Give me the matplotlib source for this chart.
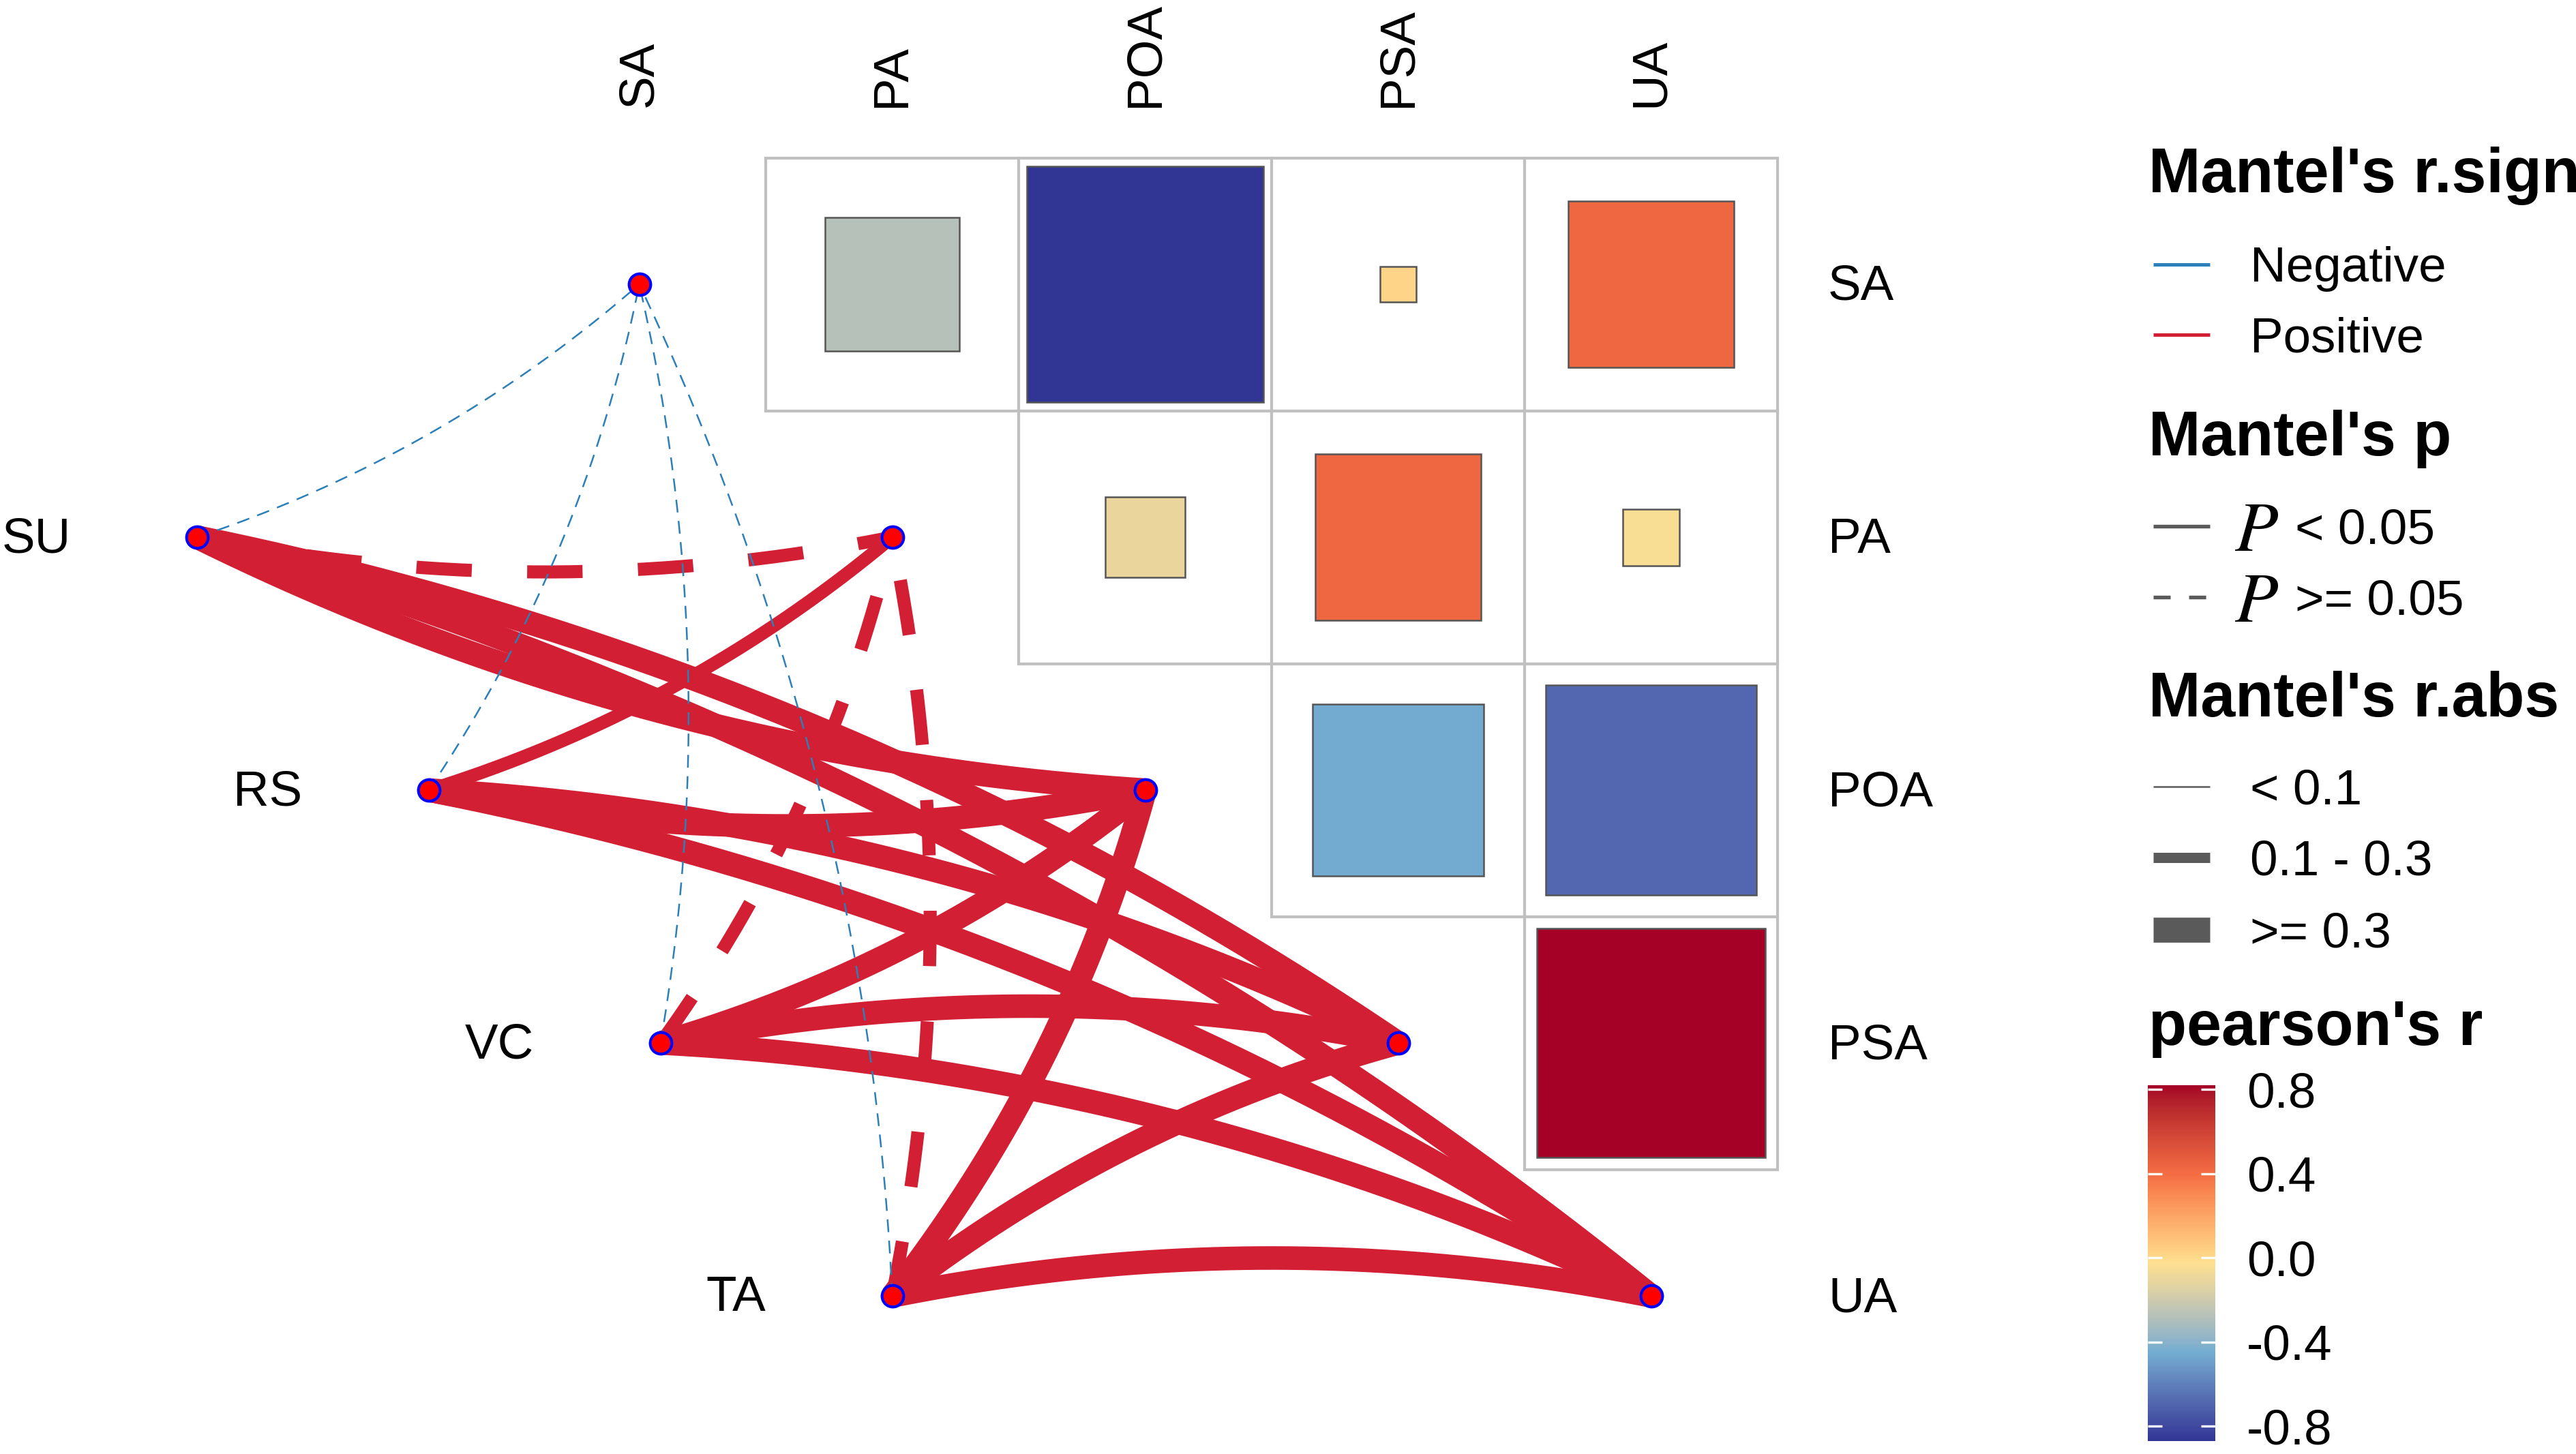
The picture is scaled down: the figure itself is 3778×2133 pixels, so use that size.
import numpy as np
import matplotlib.pyplot as plt
from matplotlib.patches import Rectangle
from matplotlib.colors import ListedColormap, Normalize, to_rgb
from matplotlib.cm import ScalarMappable

plt.rcParams['font.family'] = ['Liberation Sans', 'DejaVu Sans']
plt.rcParams['axes.unicode_minus'] = False
plt.rcParams['lines.scale_dashes'] = False

# ---- data ----
spec_names = ['SA', 'PA', 'POA', 'PSA', 'UA']
env_names = ['SU', 'RS', 'VC', 'TA']

# pearson's r among spec variables (upper triangle)
corr_row = ['SA', 'SA', 'SA', 'SA', 'PA', 'PA', 'PA', 'POA', 'POA', 'PSA']
corr_col = ['PA', 'POA', 'PSA', 'UA', 'POA', 'PSA', 'UA', 'PSA', 'UA', 'UA']
corr_r = [-0.28, -0.87, 0.02, 0.43, -0.10, 0.43, -0.05, -0.46, -0.69, 0.82]

# mantel test results (spec vs env)
mantel_spec = ['SA'] * 4 + ['PA'] * 4 + ['POA'] * 4 + ['PSA'] * 4 + ['UA'] * 4
mantel_env = env_names * 5
mantel_r = [-0.04, -0.06, -0.03, -0.05,
            0.18, 0.21, 0.16, 0.14,
            0.52, 0.48, 0.45, 0.41,
            0.55, 0.47, 0.50, 0.44,
            0.58, 0.51, 0.49, 0.46]
mantel_p = [0.62, 0.48, 0.71, 0.55,
            0.08, 0.03, 0.09, 0.12,
            0.001, 0.001, 0.002, 0.004,
            0.001, 0.001, 0.001, 0.003,
            0.001, 0.001, 0.001, 0.002]

# ---- styles ----
pos_col = '#D31F34'
neg_col = '#2C80B9'
grid_col = '#C0C0C0'
key_col = '#5A5A5A'
anchor_cols = ['#313695', '#74ADD1', '#FEE090', '#F46D43', '#A50026']

_M = np.array([[0.4124, 0.3576, 0.1805],
               [0.2126, 0.7152, 0.0722],
               [0.0193, 0.1192, 0.9505]])
_WHITE = np.array([0.95047, 1.0, 1.08883])


def to_lab(c):
    c = np.array(to_rgb(c))
    lin = np.where(c <= 0.04045, c / 12.92, ((c + 0.055) / 1.055) ** 2.4)
    xyz = _M @ lin / _WHITE
    f = np.where(xyz > 0.008856, np.cbrt(xyz), 7.787 * xyz + 16 / 116)
    return np.array([116 * f[1] - 16, 500 * (f[0] - f[1]), 200 * (f[1] - f[2])])


def from_lab(lab):
    fy = (lab[0] + 16) / 116
    f = np.array([fy + lab[1] / 500, fy, fy - lab[2] / 200])
    xyz = np.where(f ** 3 > 0.008856, f ** 3, (f - 16 / 116) / 7.787) * _WHITE
    lin = np.linalg.solve(_M, xyz)
    c = np.where(lin <= 0.0031308, 12.92 * lin, 1.055 * np.clip(lin, 0, None) ** (1 / 2.4) - 0.055)
    return np.clip(c, 0, 1)


labs = [to_lab(c) for c in anchor_cols]
ramp = []
for t in np.linspace(0, 1, 256):
    seg = min(int(t * (len(labs) - 1)), len(labs) - 2)
    u = t * (len(labs) - 1) - seg
    ramp.append(from_lab((1 - u) * labs[seg] + u * labs[seg + 1]))
cmap = ListedColormap(ramp)
norm = Normalize(vmin=min(corr_r), vmax=max(corr_r))

W, H = 3779, 2133
fig = plt.figure(figsize=(W / 300, H / 300), dpi=300)
ax = fig.add_axes([0, 0, 1, 1])
ax.set_xlim(-2.527, 7.659)
ax.set_ylim(-0.625, 5.124)
ax.axis('off')

n = len(spec_names)
spec_pos = {s: (i, n - 1 - i) for i, s in enumerate(spec_names)}
env_x = -1.748 + 0.9161 * np.arange(len(env_names))
env_pos = {e: (env_x[k], n - 2 - k) for k, e in enumerate(env_names)}

# heatmap cells
for rn, cn, r in zip(corr_row, corr_col, corr_r):
    cx = spec_names.index(cn)
    cy = n - 1 - spec_names.index(rn)
    ax.add_patch(Rectangle((cx - 0.5, cy - 0.5), 1, 1, fc='white',
                           ec=grid_col, lw=1.0, zorder=1))
    s = np.sqrt(abs(r))
    ax.add_patch(Rectangle((cx - s / 2, cy - s / 2), s, s, fc=cmap(norm(r)),
                           ec='#555555', lw=0.6, zorder=1.5))

# labels
for i, s in enumerate(spec_names):
    ax.text(i, 4.70, s, rotation=90, ha='center', va='bottom', fontsize=17.5)
    ax.text(4.70, n - 1 - i - 0.012, s, ha='left', va='center', fontsize=17.5)
for e in env_names:
    x, y = env_pos[e]
    ax.text(x - 0.5, y - 0.01, e, ha='right', va='center', fontsize=17.5)


def curve_points(p0, p1, bend, num=150):
    p0 = np.asarray(p0, float)
    p1 = np.asarray(p1, float)
    d = p1 - p0
    L = np.hypot(*d)
    normal = np.array([d[1], -d[0]]) / L
    ctrl = (p0 + p1) / 2 + bend * 0.1 * L * normal
    t = np.linspace(0, 1, num)[:, None]
    return (1 - t) ** 2 * p0 + 2 * (1 - t) * t * ctrl + t ** 2 * p1


# mantel edges, drawn UA first so SA ends on top
order = sorted(range(len(mantel_r)), key=lambda k: -spec_names.index(mantel_spec[k]))
for k in order:
    sp, en, r, p = mantel_spec[k], mantel_env[k], mantel_r[k], mantel_p[k]
    bend = 1 if spec_names.index(sp) < 3 else -1
    pts = curve_points(env_pos[en], spec_pos[sp], bend)
    ar = abs(r)
    if ar < 0.1:
        lw, z = 0.6, 4
    elif ar < 0.3:
        lw, z = 4.6, 3
    else:
        lw, z = 8.3, 2
    col = pos_col if r > 0 else neg_col
    if p < 0.05:
        ls = '-'
    elif lw < 1:
        ls = (0, (4.5, 3.0))
    else:
        ls = (0, (19.5, 19.5))
    ax.plot(pts[:, 0], pts[:, 1], color=col, lw=lw, ls=ls,
            solid_capstyle='butt', dash_capstyle='butt', zorder=z)

# nodes
allx = [spec_pos[s][0] for s in spec_names] + [env_pos[e][0] for e in env_names]
ally = [spec_pos[s][1] for s in spec_names] + [env_pos[e][1] for e in env_names]
ax.plot(allx, ally, 'o', ms=7.6, mfc='red', mec='blue', mew=1.0, ls='none', zorder=6)

# ---- legends (pixel coordinates) ----
lax = fig.add_axes([0, 0, 1, 1])
lax.set_xlim(0, W)
lax.set_ylim(H, 0)
lax.axis('off')

tx, kx0, kx1, lx = 3151, 3158, 3241, 3300
title_kw = dict(fontsize=22, fontweight='bold', va='baseline', ha='left')
lab_kw = dict(fontsize=17.5, va='center', ha='left')
dy = 7

lax.text(tx, 282, "Mantel's r.sign", **title_kw)
for y, c, lab in [(388, neg_col, 'Negative'), (491, pos_col, 'Positive')]:
    lax.plot([kx0, kx1], [y, y], color=c, lw=1.2, solid_capstyle='butt')
    lax.text(lx, y + dy, lab, **lab_kw)

lax.text(tx, 668, "Mantel's p", **title_kw)
for y, ls, lab in [(772, '-', '< 0.05'), (876, (0, (6, 6.5)), '>= 0.05')]:
    lax.plot([kx0, kx1], [y, y], color=key_col, lw=1.3, ls=ls,
             solid_capstyle='butt', dash_capstyle='butt')
    lax.text(3278, y + 4 + dy, 'P', fontfamily='STIXGeneral', style='italic',
             fontsize=25, va='center', ha='left')
    lax.text(3366, y + dy, lab, **lab_kw)

lax.text(tx, 1051, "Mantel's r.abs", **title_kw)
for y, w, lab in [(1154, 0.6, '< 0.1'), (1258, 3.6, '0.1 - 0.3'), (1364, 8.8, '>= 0.3')]:
    lax.plot([kx0, kx1], [y, y], color=key_col, lw=w, solid_capstyle='butt')
    lax.text(lx, y + dy, lab, **lab_kw)

lax.text(tx, 1533, "pearson's r", **title_kw)

cax = fig.add_axes([3150 / W, 1 - 2114 / H, 99 / W, (2114 - 1592) / H])
cb = fig.colorbar(ScalarMappable(norm=norm, cmap=cmap), cax=cax)
cb.outline.set_visible(False)
cb.set_ticks([-0.8, -0.4, 0.0, 0.4, 0.8])
cb.set_ticklabels(['-0.8', '-0.4', '0.0', '0.4', '0.8'])
cax.tick_params(axis='y', which='both', left=True, right=True, direction='in',
                color='white', length=5, width=0.8, labelsize=17.5, pad=11)

fig.savefig('out.png', dpi=300)
